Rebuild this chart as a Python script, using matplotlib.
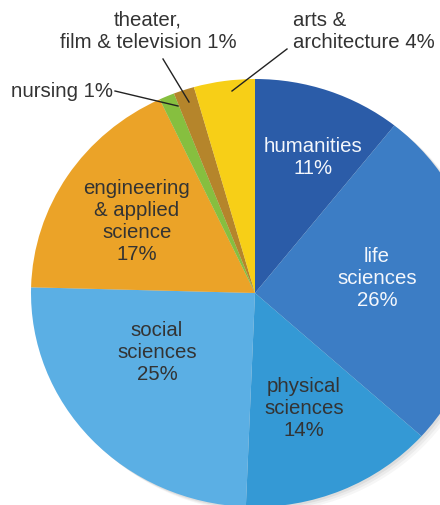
import matplotlib
matplotlib.use("Agg")
import matplotlib.pyplot as plt
from matplotlib.patches import Ellipse

# ---- data ----
categories = ["humanities", "life sciences", "physical sciences", "social sciences",
              "engineering & applied science", "nursing", "theater, film & television",
              "arts & architecture"]
shares = [10.7, 26.0, 14.0, 24.8, 17.6, 1.1, 1.5, 4.4]
pct_labels = ["11%", "26%", "14%", "25%", "17%", "1%", "1%", "4%"]
colors = ["#2B5CA8", "#3C7DC5", "#3499D5", "#5BAFE4", "#EBA328", "#86BF3F", "#B5852B", "#F7CF17"]

W, H = 440, 506
fig = plt.figure(figsize=(W / 100, H / 100), dpi=100)

# pie in its own axes (slightly wider than tall, as in the reference)
cx, cy, RX, RY = 255, 294, 224, 214
pax = fig.add_axes([(cx - RX) / W, (H - cy - RY) / H, 2 * RX / W, 2 * RY / H])
pax.set_xlim(-1, 1)
pax.set_ylim(-1, 1)
pax.set_aspect("auto")
pax.axis("off")
for dx, dy, a in [(0.03, -0.025, 0.035), (0.02, -0.017, 0.045), (0.01, -0.009, 0.06)]:
    pax.add_patch(Ellipse((dx, dy), 2.0, 2.0, color="#000000", alpha=a, lw=0, zorder=0))
pax.pie(shares, colors=colors, startangle=90, counterclock=False,
        center=(0, 0), radius=1, frame=True,
        wedgeprops=dict(linewidth=0, zorder=2))
pax.set_xlim(-1, 1)
pax.set_ylim(-1, 1)
pax.set_aspect("auto")
pax.axis("off")

# overlay axes for text in pixel coordinates
ax = fig.add_axes([0, 0, 1, 1])
ax.set_xlim(0, W)
ax.set_ylim(0, H)
ax.axis("off")

FONT = ["Liberation Sans", "DejaVu Sans"]
FS = 14.7
LS = 1.2
dark = "#333333"
white = "#f4f7fc"

def T(x, y, s, color=dark, ha="center"):
    ax.text(x, H - y, s, ha=ha, va="center", fontsize=FS, family=FONT,
            color=color, linespacing=LS)

# inside labels
T(313, 158, "humanities\n" + pct_labels[0], white)
T(377, 279, "life\nsciences\n" + pct_labels[1], white)
T(304, 409, "physical\nsciences\n" + pct_labels[2])
T(157, 352, "social\nsciences\n" + pct_labels[3])
T(137, 222, "engineering\n& applied\nscience\n" + pct_labels[4])

# outside labels with leader lines
T(11, 91, "nursing " + pct_labels[5], ha="left")
ax.plot([115, 178], [H - 92, H - 107], color="#222222", lw=1)
T(148, 31, "theater,\nfilm & television " + pct_labels[6])
ax.plot([163, 189], [H - 60, H - 103], color="#222222", lw=1)
ax.text(293, H - 31, "arts &\narchitecture " + pct_labels[7], ha="left", va="center",
        fontsize=FS, family=FONT, color=dark, linespacing=LS)
ax.plot([287, 232], [H - 50, H - 92], color="#222222", lw=1)

fig.savefig("out.png", dpi=100)
